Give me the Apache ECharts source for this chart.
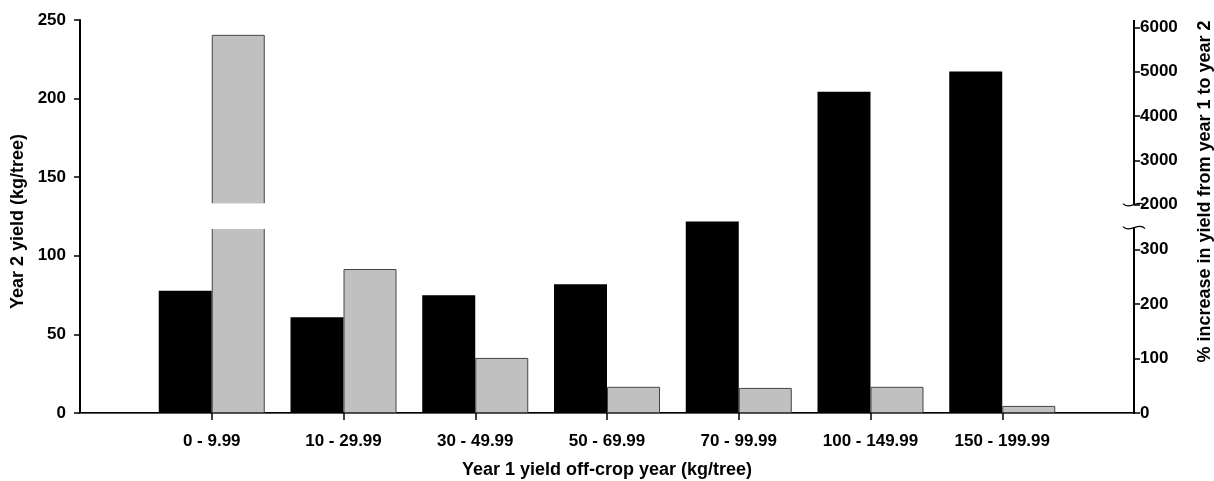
<!DOCTYPE html>
<html>
<head>
<meta charset="utf-8">
<title>Year 2 yield by year 1 off-crop yield</title>
<script src="https://cdn.jsdelivr.net/npm/echarts@6/dist/echarts.min.js"></script>
<style>
html,body{margin:0;padding:0;background:#fff;}
#chart{width:1214px;height:481px;}
</style>
</head>
<body>
<div id="chart"></div>
<script>
// year 1 (off-crop) yield classes, kg/tree
var categories = ['0 - 9.99', '10 - 29.99', '30 - 49.99', '50 - 69.99', '70 - 99.99', '100 - 149.99', '150 - 199.99'];
// year 2 yield, kg/tree (left axis, black bars)
var year2Yield = [77.8, 60.9, 74.9, 81.9, 121.8, 204.3, 217.2];
// % increase in yield from year 1 to year 2 (right axis, grey bars)
var pctIncrease = [5830, 264, 101, 48, 46, 48, 13];
var rightTicksLow = [0, 100, 200, 300];
var rightTicksHigh = [2000, 3000, 4000, 5000, 6000];

// right axis is broken: 0-340 linear, then jump to 2000, upper part compressed
var BREAK_LO = 340, BREAK_HI = 382, HIGH_START = 2000, HIGH_STEP = 81.3; // axis units per 1000 %
var RIGHT_MAX = 720.6;
var FONT = "'Liberation Sans', Arial, sans-serif";

function toAxis(v){
  if (v <= BREAK_LO) return v;
  if (v < HIGH_START) return BREAK_LO;
  return BREAK_HI + (v - HIGH_START) / 1000 * HIGH_STEP;
}
function fromAxis(u){
  var v = u > BREAK_HI - 0.5 ? HIGH_START + (u - BREAK_HI) / HIGH_STEP * 1000 : u;
  return String(Math.round(v / 100) * 100);
}

// one empty slot on each side so the groups sit on the ticks
var axisCats = [''].concat(categories).concat([' ']);
function pad(arr){ return ['-'].concat(arr).concat(['-']); }

var lowPart = [], gapPart = [], highPart = [];
pctIncrease.forEach(function(v){
  var u = toAxis(v);
  if (u > BREAK_HI) {
    lowPart.push(BREAK_LO); gapPart.push(BREAK_HI - BREAK_LO); highPart.push(u - BREAK_HI);
  } else {
    lowPart.push(u); gapPart.push('-'); highPart.push('-');
  }
});
var rightTickPos = rightTicksLow.map(toAxis).concat(rightTicksHigh.map(toAxis));

var labelStyle = {color:'#000', fontSize:17, fontWeight:'bold', fontFamily:FONT};
var nameStyle = {color:'#000', fontSize:18, fontWeight:'bold', fontFamily:FONT};
var greyStyle = {color:'#c0c0c0', borderColor:'#444', borderWidth:1};

var chart = echarts.init(document.getElementById('chart'));
var option = {
  animation:false,
  backgroundColor:'#fff',
  grid:{left:80, right:80, top:20, bottom:68, containLabel:false, outerBoundsMode:'none'},
  xAxis:[
    {
      type:'category', data:axisCats, boundaryGap:false,
      axisLine:{show:true, lineStyle:{color:'#000', width:2}},
      axisTick:{show:true, length:7, lineStyle:{color:'#000', width:1.5},
        interval:function(i){ return i > 0 && i < axisCats.length - 1; }},
      axisLabel:Object.assign({interval:0, margin:20}, labelStyle),
      name:'Year 1 yield off-crop year (kg/tree)', nameLocation:'middle', nameGap:48,
      nameTextStyle:nameStyle
    },
    {
      type:'category', data:axisCats, boundaryGap:false, position:'top',
      axisLine:{show:true, lineStyle:{color:'#555', width:1}},
      axisTick:{show:false}, axisLabel:{show:false}
    }
  ],
  yAxis:[
    {
      type:'value', min:0, max:250, interval:50, position:'left',
      axisLine:{show:true, lineStyle:{color:'#000', width:2}},
      axisTick:{show:true, length:6, lineStyle:{color:'#000', width:1.5}},
      splitLine:{show:false},
      axisLabel:Object.assign({margin:14}, labelStyle),
      name:'Year 2 yield (kg/tree)', nameLocation:'middle', nameGap:46, nameRotate:90,
      nameTextStyle:Object.assign({padding:[0, 10, 0, 0]}, nameStyle)
    },
    {
      type:'value', min:0, max:RIGHT_MAX, position:'right',
      axisLine:{show:false},
      axisTick:{show:true, length:6, customValues:rightTickPos, lineStyle:{color:'#000', width:1.5}},
      splitLine:{show:false},
      axisLabel:Object.assign({margin:6, customValues:rightTickPos, formatter:fromAxis}, labelStyle),
      name:'% increase in yield from year 1 to year 2', nameLocation:'middle', nameGap:62, nameRotate:90,
      nameTextStyle:Object.assign({padding:[0, 0, 0, 50]}, nameStyle)
    }
  ],
  series:[
    {name:'Year 2 yield', type:'bar', yAxisIndex:0, data:pad(year2Yield),
      barWidth:53, barGap:'0%', itemStyle:{color:'#000'}},
    {name:'% increase', type:'bar', yAxisIndex:1, stack:'pct', data:pad(lowPart),
      barWidth:53, barGap:'0%', itemStyle:greyStyle},
    {name:'break', type:'bar', yAxisIndex:1, stack:'pct', data:pad(gapPart),
      barWidth:53, barGap:'0%', itemStyle:{color:'rgba(0,0,0,0)', borderWidth:0}},
    {name:'% increase high', type:'bar', yAxisIndex:1, stack:'pct', data:pad(highPart),
      barWidth:53, barGap:'0%', itemStyle:greyStyle}
  ]
};
chart.setOption(option);

// right axis line drawn in two pieces with break marks
var xr = chart.convertToPixel({xAxisIndex:0}, axisCats.length - 1);
var y0 = chart.convertToPixel({yAxisIndex:1}, 0);
var yLo = chart.convertToPixel({yAxisIndex:1}, BREAK_LO);
var yHi = chart.convertToPixel({yAxisIndex:1}, BREAK_HI);
var yTop = chart.convertToPixel({yAxisIndex:1}, RIGHT_MAX);
function squiggle(y){
  return {type:'bezierCurve', z:100,
    shape:{x1:xr - 11, y1:y - 1, cpx1:xr - 5, cpy1:y + 6, cpx2:xr + 5, cpy2:y - 6, x2:xr + 11, y2:y + 1},
    style:{stroke:'#000', lineWidth:1.2, fill:null}};
}
var graphics = [
  {type:'line', z:100, shape:{x1:xr, y1:y0 + 1, x2:xr, y2:yLo}, style:{stroke:'#000', lineWidth:2}},
  {type:'line', z:100, shape:{x1:xr, y1:yHi, x2:xr, y2:yTop}, style:{stroke:'#000', lineWidth:2}},
  squiggle(yHi),
  squiggle(yLo)
];
// hide the cut edges of broken grey bars
var gapData = chart.getModel().getSeriesByIndex(2).getData();
gapData.each(function(i){
  var lay = gapData.getItemLayout(i);
  if (!lay || !lay.height) return;
  var top = Math.min(lay.y, lay.y + lay.height), h = Math.abs(lay.height);
  graphics.push({type:'rect', z:50, shape:{x:lay.x - 1, y:top - 1.5, width:lay.width + 2, height:h + 3},
    style:{fill:'#fff'}});
});
chart.setOption({graphic:graphics});
</script>
</body>
</html>
